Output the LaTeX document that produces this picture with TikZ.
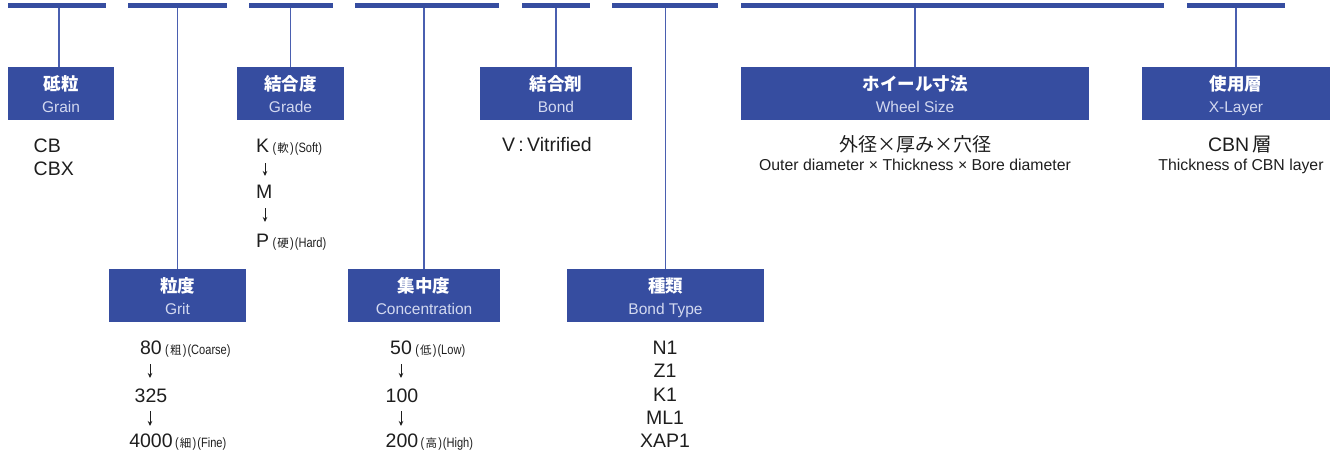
\documentclass[tikz,border=0pt]{standalone}
\usepackage{fontspec}
\setmainfont{Liberation Sans}
\newfontfamily\jpfont{Noto Sans CJK JP}
\newfontfamily\narrowfont[FakeStretch=0.82]{Liberation Sans}
\usetikzlibrary{arrows.meta}
\definecolor{navy}{HTML}{364DA0}
\definecolor{subtxt}{HTML}{D3D9F0}
\definecolor{ink}{HTML}{1E1E1E}
\definecolor{connc}{HTML}{4A5FB0}
\newcommand\mkbox[6]{%
  \node[boxst, minimum width={#4-#2}, anchor=north west] (#1) at (#2,#3) {};
  \node[jpt, anchor=base] (#1-jp) at ([yshift=-23pt]#1.north) {#5};
  \node[ent, anchor=base] (#1-en) at ([yshift=-45pt]#1.north) {#6};
}
\newcommand\mkbar[3]{%
  \node[barst, minimum width={#3-#2}, anchor=north west] (#1) at (#2,3.3) {};
}
\newcommand\jnote[2]{{\narrowfont\fontsize{13.5}{15}\selectfont(}\kern1.2pt{\jpfont\fontsize{11.5}{13}\selectfont #1}\kern1.2pt{\narrowfont\fontsize{13.5}{15}\selectfont)\kern1pt(#2)}}
\begin{document}
\begin{tikzpicture}[x=1pt,y=-1pt,
  boxst/.style={fill=navy, draw=none, minimum height=53pt, inner sep=0pt, outer sep=0pt},
  barst/.style={fill=navy, draw=none, minimum height=5pt, inner sep=0pt, outer sep=0pt},
  conn/.style={draw=connc, line width=1.3pt},
  jpt/.style={text=white, font=\jpfont\bfseries\fontsize{17.5}{20}\selectfont, inner sep=0pt},
  ent/.style={text=subtxt, font=\fontsize{15.5}{18}\selectfont, inner sep=0pt},
  val/.style={text=ink, font=\fontsize{19.5}{22}\selectfont, inner sep=0pt},
  jval/.style={text=ink, font=\jpfont\fontsize{19}{22}\selectfont, inner sep=0pt},
  sval/.style={text=ink, font=\fontsize{15.8}{18}\selectfont, inner sep=0pt},
  note/.style={text=ink, inner sep=0pt},
  darr/.style={draw=ink, line width=0.9pt, -{Stealth[length=5pt,width=4.5pt]}},
]
\useasboundingbox (0,0) rectangle (1330,450);

% top bars
\mkbar{b1}{8}{106}
\mkbar{b2}{128}{227}
\mkbar{b3}{249}{333}
\mkbar{b4}{355}{499}
\mkbar{b5}{522}{590}
\mkbar{b6}{612}{718}
\mkbar{b7}{741}{1164}
\mkbar{b8}{1187}{1285}

% boxes
\mkbox{grain}{8}{67}{114}{砥粒}{Grain}
\mkbox{grit}{109}{269}{246}{粒度}{Grit}
\mkbox{grade}{237}{67}{344}{結合度}{Grade}
\mkbox{conc}{348}{269}{500}{集中度}{Concentration}
\mkbox{bond}{480}{67}{632}{結合剤}{Bond}
\mkbox{btype}{567}{269}{764}{種類}{Bond Type}
\mkbox{wheel}{741}{67}{1089}{ホイール寸法}{Wheel Size}
\mkbox{layer}{1142}{67}{1330}{使用層}{X-Layer}

% connectors
\draw[conn] ([xshift=-2pt]grain.north) -- ([xshift=-2pt]grain.north |- b1.south);
\draw[conn] (grit.north) -- (grit.north |- b2.south);
\draw[conn] (grade.north) -- (grade.north |- b3.south);
\draw[conn] (conc.north) -- (conc.north |- b4.south);
\draw[conn] (bond.north) -- (bond.north |- b5.south);
\draw[conn] (btype.north) -- (btype.north |- b6.south);
\draw[conn] (wheel.north) -- (wheel.north |- b7.south);
\draw[conn] (layer.north) -- (layer.north |- b8.south);

% Grain values
\node[val, anchor=base west] (cb) at (33.5,152) {CB};
\node[val, anchor=base west] (cbx) at (33.5,175) {CBX};

% Grade values
\node[val, anchor=base west] (gk) at (256,152) {K};
\node[val, anchor=base west] (gm) at (256,198) {M};
\node[val, anchor=base west] (gp) at (256,247) {P};
\node[note, anchor=base west] (gkn) at ([xshift=3pt]gk.base east) {\jnote{軟}{Soft}};
\node[note, anchor=base west] (gpn) at ([xshift=3pt]gp.base east) {\jnote{硬}{Hard}};
\coordinate (ga1s) at (265,163); \coordinate (ga1e) at (265,176);
\coordinate (ga2s) at (265,208); \coordinate (ga2e) at (265,222);
\draw[darr] (ga1s) -- (ga1e);
\draw[darr] (ga2s) -- (ga2e);

% Grit values
\node[val, anchor=base] (g80) at (151,354) {80};
\node[val, anchor=base] (g325) at (151,402) {325};
\node[val, anchor=base] (g4000) at (151,447.5) {4000};
\node[note, anchor=base west] (g80n) at ([xshift=3pt]g80.base east) {\jnote{粗}{Coarse}};
\node[note, anchor=base west] (g4000n) at ([xshift=2pt]g4000.base east) {\jnote{細}{Fine}};
\coordinate (ra1s) at (150,364); \coordinate (ra1e) at (150,378);
\coordinate (ra2s) at (150,411); \coordinate (ra2e) at (150,426);
\draw[darr] (ra1s) -- (ra1e);
\draw[darr] (ra2s) -- (ra2e);

% Concentration values
\node[val, anchor=base] (c50) at (401,354) {50};
\node[val, anchor=base] (c100) at (402,402) {100};
\node[val, anchor=base] (c200) at (402,447.5) {200};
\node[note, anchor=base west] (c50n) at ([xshift=3pt]c50.base east) {\jnote{低}{Low}};
\node[note, anchor=base west] (c200n) at ([xshift=2pt]c200.base east) {\jnote{高}{High}};
\coordinate (ca1s) at (401,364); \coordinate (ca1e) at (401,378);
\coordinate (ca2s) at (401,411); \coordinate (ca2e) at (401,426);
\draw[darr] (ca1s) -- (ca1e);
\draw[darr] (ca2s) -- (ca2e);

% Bond
\node[val, anchor=base west] (vit) at (502,151) {V\,:\,Vitrified};

% Bond type values
\node[val, anchor=base] (t1) at (665,354) {N1};
\node[val, anchor=base] (t2) at (665,377.5) {Z1};
\node[val, anchor=base] (t3) at (665,401) {K1};
\node[val, anchor=base] (t4) at (665,424.5) {ML1};
\node[val, anchor=base] (t5) at (665,447.5) {XAP1};

% Wheel size
\node[jval, anchor=base] (wjp) at (915,151) {外径×厚み×穴径};
\node[sval, anchor=base] (wen) at (915,170.5) {Outer diameter × Thickness × Bore diameter};

% X-Layer
\node[val, anchor=base] (ljp) at (1240,151) {CBN\,{\jpfont 層}};
\node[sval, anchor=base] (len) at (1241,170.5) {Thickness of CBN layer};
\end{tikzpicture}
\end{document}
